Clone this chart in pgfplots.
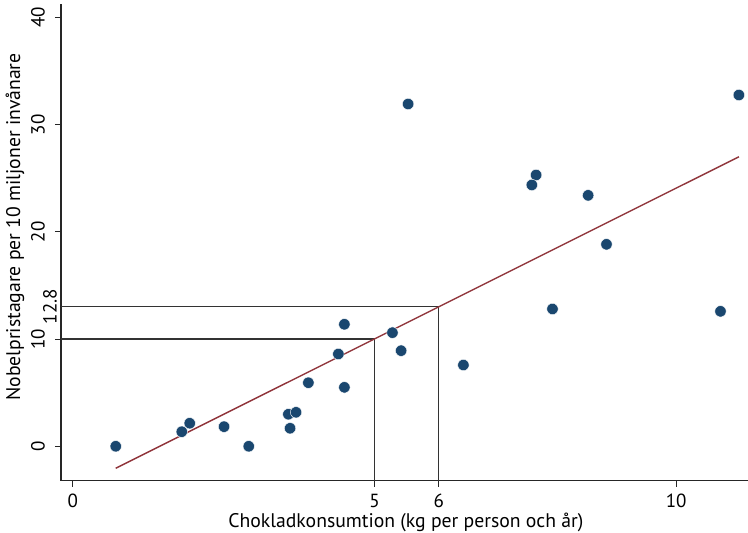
\documentclass[border=0pt]{standalone}
\usepackage{fontspec}
\setmainfont{PT Sans}
\usepackage{pgfplots}
\pgfplotsset{compat=1.18}
\definecolor{stnavy}{RGB}{26,71,111}
\definecolor{stmaroon}{RGB}{144,53,59}
\begin{document}
\begin{tikzpicture}
\begin{axis}[
  at={(0,0)}, anchor=south west,
  scale only axis, width=687pt, height=476.7pt,
  xmin=-0.194, xmax=11.19, ymin=-3.21, ymax=41.26,
  axis x line*=bottom, axis y line*=left,
  axis line style={line width=1.2pt, black!85, -},
  tick align=outside, major tick length=6pt,
  tick style={line width=1pt, black!85},
  xtick={0,5,6.066,10}, xticklabels={0,5,6,10},
  ytick={0,10,20,30,40},
  extra y ticks={13.02}, extra y tick labels={12.8},
  extra y tick style={major tick length=0pt, yticklabel style={yshift=-6pt}},
  yticklabel style={rotate=90, anchor=center, inner sep=0pt, yshift=17pt},
  xticklabel style={anchor=north, inner sep=0pt, yshift=-7pt},
  tick label style={font=\fontsize{19}{22}\selectfont},
  /pgf/number format/assume math mode=true,
  label style={font=\fontsize{19.7}{23}\selectfont},
  xlabel={Chokladkonsumtion (kg per person och år)},
  ylabel={Nobelpristagare per 10 miljoner invånare},
  xlabel style={at={(axis description cs:0.502,-0.0866)}, anchor=center},
  ylabel style={at={(axis description cs:-0.067,0.532)}, anchor=center, rotate=0},
  clip=false,
]
\addplot[black!80, line width=1.4pt] coordinates {(-0.194,10) (5,10) (5,-3.21)};
\addplot[black!80, line width=1.4pt] coordinates {(-0.194,13.02) (6.066,13.02) (6.066,-3.21)};
\addplot[only marks, mark=*, mark size=5.7pt, mark options={fill=stnavy, draw=white, line width=0.4pt}] coordinates {
(0.713,0) (1.807,1.36) (1.939,2.15) (2.508,1.83) (2.917,0)
(3.574,2.99) (3.701,3.17) (3.602,1.68) (3.905,5.93) (4.402,8.61)
(4.502,11.38) (4.502,5.50) (5.298,10.60) (5.442,8.92) (5.558,31.93)
(6.474,7.58) (7.679,25.31) (7.608,24.38) (8.541,23.41) (8.845,18.84)
(7.950,12.81) (10.734,12.59) (11.039,32.77)
};
\addplot[stmaroon, line width=1.4pt] coordinates {(0.713,-2.05) (11.04,27.01)};
\end{axis}
\pgfresetboundingbox
\path (-61pt,-52.3pt) rectangle (687pt,480.7pt);
\end{tikzpicture}
\end{document}
